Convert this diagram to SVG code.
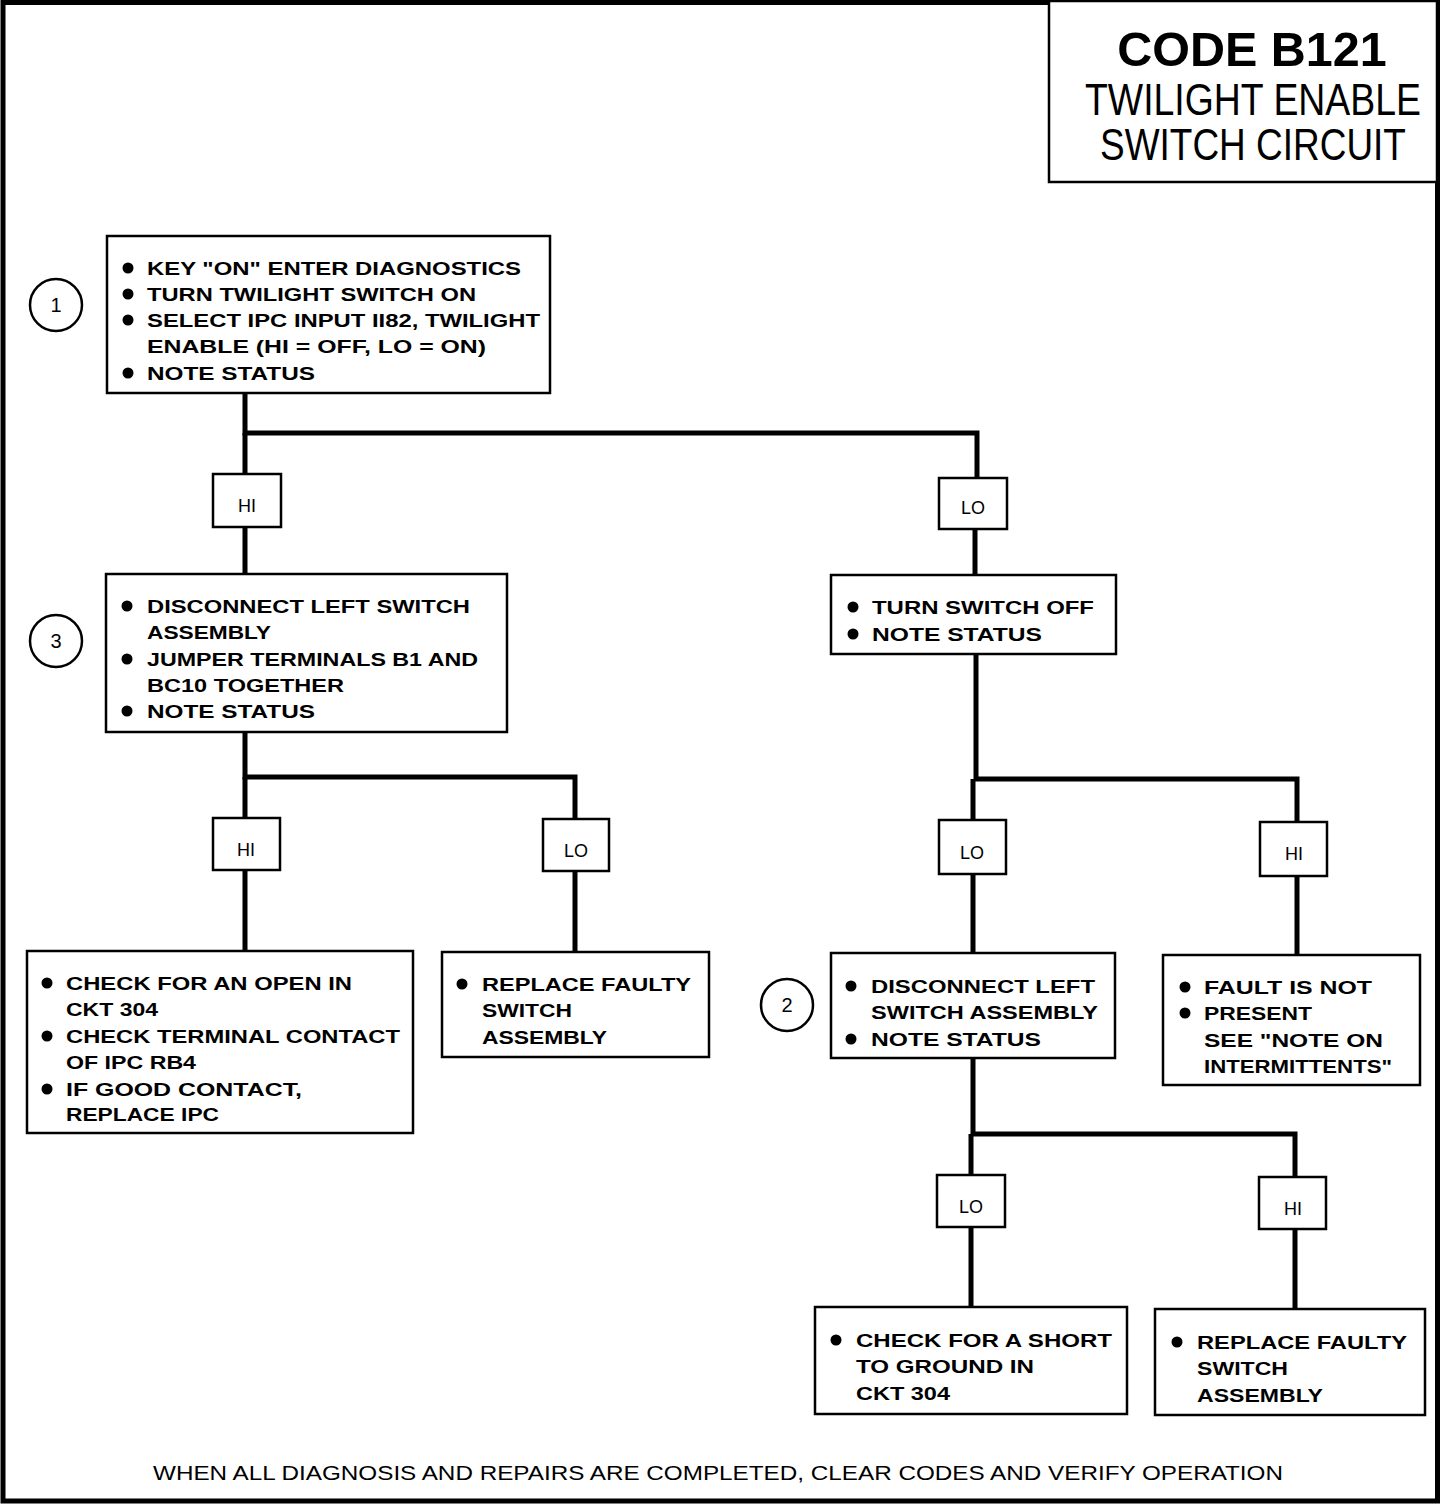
<svg xmlns="http://www.w3.org/2000/svg" width="1456" height="1504" viewBox="0 0 1456 1504">
<style>
.frame{fill:none;stroke:#000;stroke-width:5}
.box{fill:#fff;stroke:#000;stroke-width:2.5}
.lbl{fill:#fff;stroke:#000;stroke-width:2.5}
.wire{fill:none;stroke:#000;stroke-width:5}
.t{font-family:"Liberation Sans",Arial,sans-serif;font-size:19px;fill:#000;font-weight:bold}
.lt{font-family:"Liberation Sans",Arial,sans-serif;font-size:18px;fill:#000;text-anchor:middle}
.ct{font-family:"Liberation Sans",Arial,sans-serif;font-size:20px;fill:#000;text-anchor:middle}
.tt{font-family:"Liberation Sans",Arial,sans-serif;fill:#000;text-anchor:middle}
.b{fill:#000}
.circ{fill:#fff;stroke:#000;stroke-width:2.5}
</style>
<rect x="0" y="0" width="1456" height="1504" fill="#fff"/>
<rect class="frame" x="3" y="2.5" width="1434.5" height="1498.5"/>

<g id="title">
<rect class="box" x="1049" y="1" width="388" height="181"/>
<text class="tt" transform="translate(1252,66) scale(1.01,1)" font-size="48" font-weight="bold">CODE B121</text>
<text class="tt" transform="translate(1253,115) scale(0.85,1)" font-size="44">TWILIGHT ENABLE</text>
<text class="tt" transform="translate(1253,160) scale(0.84,1)" font-size="44">SWITCH CIRCUIT</text>
</g>

<g id="connectors">
<polyline class="wire" points="245,393 245,433 977,433 977,477"/>
<line class="wire" x1="245" y1="433" x2="245" y2="574"/>
<line class="wire" x1="975" y1="529" x2="975" y2="575"/>
<polyline class="wire" points="245,732 245,777 575,777 575,952"/>
<line class="wire" x1="245" y1="777" x2="245" y2="951"/>
<polyline class="wire" points="976,654 976,779 1297,779 1297,955"/>
<line class="wire" x1="973" y1="779" x2="973" y2="953"/>
<polyline class="wire" points="973,1058 973,1134 1295,1134 1295,1309"/>
<line class="wire" x1="971" y1="1134" x2="971" y2="1307"/>
</g>

<g id="lbl-hi-1"><rect class="lbl" x="213" y="474" width="68" height="53"/><text class="lt" x="247" y="512">HI</text></g>
<g id="lbl-lo-1"><rect class="lbl" x="939" y="478" width="68" height="51"/><text class="lt" x="973" y="514">LO</text></g>
<g id="lbl-hi-2"><rect class="lbl" x="213" y="818" width="67" height="52"/><text class="lt" x="246" y="856">HI</text></g>
<g id="lbl-lo-2"><rect class="lbl" x="543" y="819" width="66" height="52"/><text class="lt" x="576" y="857">LO</text></g>
<g id="lbl-lo-3"><rect class="lbl" x="939" y="820" width="67" height="54"/><text class="lt" x="972" y="859">LO</text></g>
<g id="lbl-hi-3"><rect class="lbl" x="1260" y="822" width="67" height="54"/><text class="lt" x="1294" y="860">HI</text></g>
<g id="lbl-lo-4"><rect class="lbl" x="937" y="1175" width="68" height="52"/><text class="lt" x="971" y="1213">LO</text></g>
<g id="lbl-hi-4"><rect class="lbl" x="1259" y="1177" width="67" height="52"/><text class="lt" x="1293" y="1215">HI</text></g>

<g id="step1">
<circle class="circ" cx="56" cy="305" r="26"/><text class="ct" x="56" y="312">1</text>
<rect class="box" x="107" y="236" width="443" height="157"/>
<circle class="b" cx="128" cy="268" r="5.5"/><text class="t" x="147" y="275" textLength="374" lengthAdjust="spacingAndGlyphs">KEY "ON" ENTER DIAGNOSTICS</text>
<circle class="b" cx="128" cy="294" r="5.5"/><text class="t" x="147" y="301" textLength="329" lengthAdjust="spacingAndGlyphs">TURN TWILIGHT SWITCH ON</text>
<circle class="b" cx="128" cy="320" r="5.5"/><text class="t" x="147" y="327" textLength="393" lengthAdjust="spacingAndGlyphs">SELECT IPC INPUT II82, TWILIGHT</text>
<text class="t" x="147" y="353" textLength="339" lengthAdjust="spacingAndGlyphs">ENABLE (HI = OFF, LO = ON)</text>
<circle class="b" cx="128" cy="373" r="5.5"/><text class="t" x="147" y="380" textLength="168" lengthAdjust="spacingAndGlyphs">NOTE STATUS</text>
</g>

<g id="step3">
<circle class="circ" cx="56" cy="641" r="26"/><text class="ct" x="56" y="648">3</text>
<rect class="box" x="106" y="574" width="401" height="158"/>
<circle class="b" cx="127" cy="606" r="5.5"/><text class="t" x="147" y="613" textLength="323" lengthAdjust="spacingAndGlyphs">DISCONNECT LEFT SWITCH</text>
<text class="t" x="147" y="639" textLength="124" lengthAdjust="spacingAndGlyphs">ASSEMBLY</text>
<circle class="b" cx="127" cy="659" r="5.5"/><text class="t" x="147" y="666" textLength="331" lengthAdjust="spacingAndGlyphs">JUMPER TERMINALS B1 AND</text>
<text class="t" x="147" y="692" textLength="197" lengthAdjust="spacingAndGlyphs">BC10 TOGETHER</text>
<circle class="b" cx="127" cy="711" r="5.5"/><text class="t" x="147" y="718" textLength="168" lengthAdjust="spacingAndGlyphs">NOTE STATUS</text>
</g>

<g id="check-open">
<rect class="box" x="27" y="951" width="386" height="182"/>
<circle class="b" cx="47" cy="983" r="5.5"/><text class="t" x="66" y="990" textLength="286" lengthAdjust="spacingAndGlyphs">CHECK FOR AN OPEN IN</text>
<text class="t" x="66" y="1016" textLength="92" lengthAdjust="spacingAndGlyphs">CKT 304</text>
<circle class="b" cx="47" cy="1036" r="5.5"/><text class="t" x="66" y="1043" textLength="334" lengthAdjust="spacingAndGlyphs">CHECK TERMINAL CONTACT</text>
<text class="t" x="66" y="1069" textLength="130" lengthAdjust="spacingAndGlyphs">OF IPC RB4</text>
<circle class="b" cx="47" cy="1089" r="5.5"/><text class="t" x="66" y="1096" textLength="236" lengthAdjust="spacingAndGlyphs">IF GOOD CONTACT,</text>
<text class="t" x="66" y="1121" textLength="153" lengthAdjust="spacingAndGlyphs">REPLACE IPC</text>
</g>

<g id="replace-left">
<rect class="box" x="442" y="952" width="267" height="105"/>
<circle class="b" cx="462" cy="984" r="5.5"/><text class="t" x="482" y="991" textLength="209" lengthAdjust="spacingAndGlyphs">REPLACE FAULTY</text>
<text class="t" x="482" y="1017" textLength="90" lengthAdjust="spacingAndGlyphs">SWITCH</text>
<text class="t" x="482" y="1044" textLength="125" lengthAdjust="spacingAndGlyphs">ASSEMBLY</text>
</g>

<g id="turn-off">
<rect class="box" x="831" y="575" width="285" height="79"/>
<circle class="b" cx="853" cy="607" r="5.5"/><text class="t" x="872" y="614" textLength="222" lengthAdjust="spacingAndGlyphs">TURN SWITCH OFF</text>
<circle class="b" cx="853" cy="634" r="5.5"/><text class="t" x="872" y="641" textLength="170" lengthAdjust="spacingAndGlyphs">NOTE STATUS</text>
</g>

<g id="step2">
<circle class="circ" cx="787" cy="1005" r="26"/><text class="ct" x="787" y="1012">2</text>
<rect class="box" x="831" y="953" width="284" height="105"/>
<circle class="b" cx="851" cy="986" r="5.5"/><text class="t" x="871" y="993" textLength="224" lengthAdjust="spacingAndGlyphs">DISCONNECT LEFT</text>
<text class="t" x="871" y="1019" textLength="227" lengthAdjust="spacingAndGlyphs">SWITCH ASSEMBLY</text>
<circle class="b" cx="851" cy="1039" r="5.5"/><text class="t" x="871" y="1046" textLength="170" lengthAdjust="spacingAndGlyphs">NOTE STATUS</text>
</g>

<g id="fault-not-present">
<rect class="box" x="1163" y="955" width="257" height="130"/>
<circle class="b" cx="1185" cy="987" r="5.5"/><text class="t" x="1204" y="994" textLength="168" lengthAdjust="spacingAndGlyphs">FAULT IS NOT</text>
<circle class="b" cx="1185" cy="1013" r="5.5"/><text class="t" x="1204" y="1020" textLength="108" lengthAdjust="spacingAndGlyphs">PRESENT</text>
<text class="t" x="1204" y="1047" textLength="179" lengthAdjust="spacingAndGlyphs">SEE "NOTE ON</text>
<text class="t" x="1204" y="1073" textLength="188" lengthAdjust="spacingAndGlyphs">INTERMITTENTS"</text>
</g>

<g id="check-short">
<rect class="box" x="815" y="1307" width="312" height="107"/>
<circle class="b" cx="836" cy="1340" r="5.5"/><text class="t" x="856" y="1347" textLength="256" lengthAdjust="spacingAndGlyphs">CHECK FOR A SHORT</text>
<text class="t" x="856" y="1373" textLength="178" lengthAdjust="spacingAndGlyphs">TO GROUND IN</text>
<text class="t" x="856" y="1400" textLength="94" lengthAdjust="spacingAndGlyphs">CKT 304</text>
</g>

<g id="replace-right">
<rect class="box" x="1155" y="1309" width="270" height="106"/>
<circle class="b" cx="1177" cy="1342" r="5.5"/><text class="t" x="1197" y="1349" textLength="210" lengthAdjust="spacingAndGlyphs">REPLACE FAULTY</text>
<text class="t" x="1197" y="1375" textLength="91" lengthAdjust="spacingAndGlyphs">SWITCH</text>
<text class="t" x="1197" y="1402" textLength="126" lengthAdjust="spacingAndGlyphs">ASSEMBLY</text>
</g>

<g id="footer">
<text x="153" y="1480" font-family="Liberation Sans,Arial,sans-serif" font-size="20" textLength="1130" lengthAdjust="spacingAndGlyphs">WHEN ALL DIAGNOSIS AND REPAIRS ARE COMPLETED, CLEAR CODES AND VERIFY OPERATION</text>
</g>
</svg>
